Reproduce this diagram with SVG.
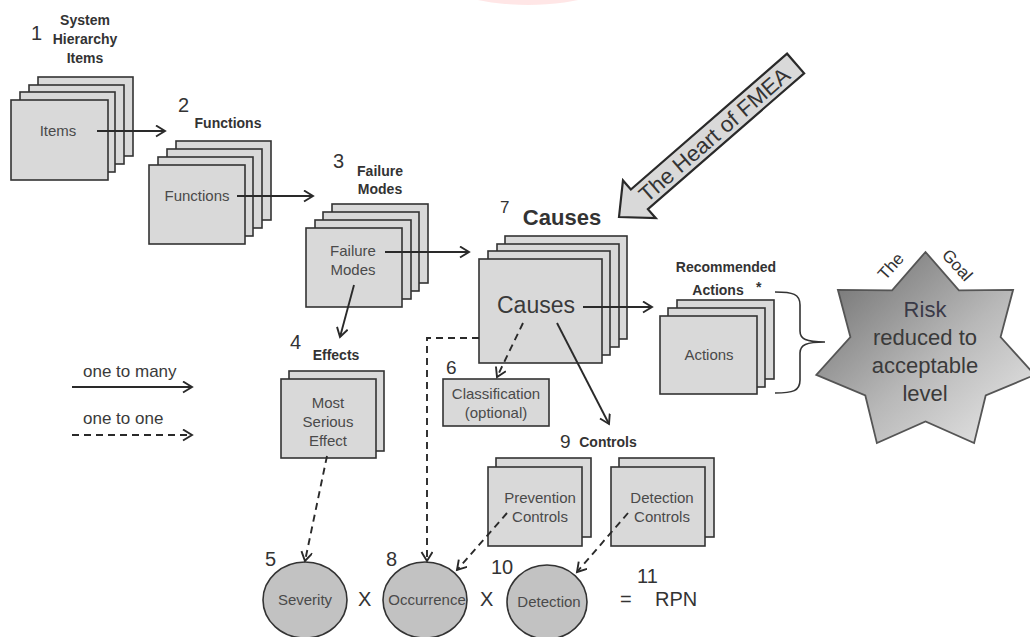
<svg xmlns="http://www.w3.org/2000/svg" width="1030" height="637" viewBox="0 0 1030 637">
<style>
text{font-family:"Liberation Sans",Arial,sans-serif;fill:#3a3a3a}
.box{fill:#d9d9d9;stroke:#333;stroke-width:1.6}
.in{font-size:15px;text-anchor:middle;fill:#4a4a4a}
.ttl{font-size:14px;font-weight:bold;text-anchor:middle;fill:#333}
.num{font-size:20px;fill:#333}
.circ{fill:#c2c2c2;stroke:#333;stroke-width:1.6}
.ln{fill:none;stroke:#2a2a2a;stroke-width:1.9;marker-end:url(#ah)}
.dl{fill:none;stroke:#2a2a2a;stroke-width:1.9;stroke-dasharray:7 5;marker-end:url(#ah)}
</style>
<defs>
<marker id="ah" markerUnits="userSpaceOnUse" markerWidth="14" markerHeight="14" refX="10" refY="6" orient="auto">
<path d="M1,0.5 L10,6 L1,11.5" fill="none" stroke="#2a2a2a" stroke-width="1.9"/>
</marker>
<linearGradient id="sg" x1="0" y1="0" x2="1" y2="1">
<stop offset="0" stop-color="#666"/>
<stop offset="0.55" stop-color="#b8b8b8"/>
<stop offset="1" stop-color="#ececec"/>
</linearGradient>
<radialGradient id="pk" cx="0.5" cy="0" r="0.6">
<stop offset="0" stop-color="#ffc8c8"/>
<stop offset="1" stop-color="#ffe6e6"/>
</radialGradient>
</defs>
<rect width="1030" height="637" fill="#fff"/>
<ellipse cx="528" cy="-28" rx="95" ry="33" fill="url(#pk)"/>

<g id="items">
<rect class="box" x="38" y="77" width="95" height="79"/>
<rect class="box" x="29" y="85" width="95" height="79"/>
<rect class="box" x="20" y="92" width="95" height="80"/>
<rect class="box" x="11" y="100" width="97" height="80"/>
<text class="in" x="58" y="136">Items</text>
<text class="num" x="31" y="40">1</text>
<text class="ttl" x="85" y="25">System</text>
<text class="ttl" x="85" y="44">Hierarchy</text>
<text class="ttl" x="85" y="63">Items</text>
</g>

<g id="functions">
<rect class="box" x="176" y="141" width="95" height="79"/>
<rect class="box" x="167" y="149" width="95" height="79"/>
<rect class="box" x="158" y="157" width="95" height="79"/>
<rect class="box" x="149" y="165" width="96" height="79"/>
<text class="in" x="197" y="201">Functions</text>
<text class="num" x="178" y="112">2</text>
<text class="ttl" x="228" y="128">Functions</text>
</g>

<g id="failure-modes">
<rect class="box" x="332" y="204" width="96" height="79"/>
<rect class="box" x="323" y="212" width="96" height="79"/>
<rect class="box" x="315" y="220" width="96" height="79"/>
<rect class="box" x="306" y="228" width="96" height="79"/>
<text class="in" x="353" y="256">Failure</text>
<text class="in" x="353" y="275">Modes</text>
<text class="num" x="333" y="168">3</text>
<text class="ttl" x="380" y="176">Failure</text>
<text class="ttl" x="380" y="194">Modes</text>
</g>

<g id="causes">
<rect class="box" x="505" y="236" width="122" height="103"/>
<rect class="box" x="497" y="244" width="122" height="103"/>
<rect class="box" x="488" y="251" width="122" height="104"/>
<rect class="box" x="479" y="259" width="123" height="104"/>
<text x="536" y="313" style="font-size:23px;text-anchor:middle;fill:#3a3a3a">Causes</text>
<text x="500" y="213" style="font-size:17px;fill:#333">7</text>
<text x="562" y="225" style="font-size:22px;font-weight:bold;text-anchor:middle;fill:#333">Causes</text>
</g>

<g id="heart-of-fmea" transform="translate(619,217) rotate(-41)">
<polygon points="0,0 27,-25 27,-13 234,-13 234,13 27,13 27,25" fill="#d9d9d9" stroke="#2a2a2a" stroke-width="2.2" stroke-linejoin="miter"/>
<text x="126" y="8" style="font-size:22px;text-anchor:middle;fill:#333" textLength="192" lengthAdjust="spacingAndGlyphs">The Heart of FMEA</text>
</g>

<g id="actions">
<rect class="box" x="677" y="300" width="97" height="79"/>
<rect class="box" x="668" y="308" width="97" height="79"/>
<rect class="box" x="660" y="316" width="97" height="78"/>
<text class="in" x="709" y="360">Actions</text>
<text class="ttl" x="726" y="272">Recommended</text>
<text class="ttl" x="718" y="295">Actions</text>
<text x="756" y="292" style="font-size:14px;font-weight:bold;fill:#333">*</text>
<path d="M775,292 C793,292 800,294 800,305 L800,331 C800,339 806,342 825,342 C806,342 800,345 800,353 L800,380 C800,391 793,393 775,393" fill="none" stroke="#333" stroke-width="1.6"/>
</g>

<g id="goal">
<polygon points="925.5,252 958.9,290.3 1013.1,289.8 1000.6,337.1 1034.7,374.9 985.7,395.5 974.1,443.1 925.5,421.5 876.9,443.1 865.3,395.5 816.3,374.9 850.4,337.1 837.9,289.8 892.1,290.3" fill="url(#sg)" stroke="#555" stroke-width="1.8" stroke-linejoin="miter"/>
<text x="925" y="317" style="font-size:22px;text-anchor:middle;fill:#3a3a48">Risk</text>
<text x="925" y="345" style="font-size:22px;text-anchor:middle;fill:#3a3a3a">reduced to</text>
<text x="925" y="373" style="font-size:22px;text-anchor:middle;fill:#3a3a3a">acceptable</text>
<text x="925" y="401" style="font-size:22px;text-anchor:middle;fill:#3a3a3a">level</text>
<text transform="translate(895,270) rotate(-48)" style="font-size:17px;text-anchor:middle;fill:#333">The</text>
<text transform="translate(953,269) rotate(48)" style="font-size:17px;text-anchor:middle;fill:#333">Goal</text>
</g>

<g id="effects">
<rect class="box" x="289" y="371" width="95" height="80"/>
<rect class="box" x="281" y="379" width="95" height="79"/>
<text class="in" x="328" y="408">Most</text>
<text class="in" x="328" y="427">Serious</text>
<text class="in" x="328" y="446">Effect</text>
<text class="num" x="290" y="349">4</text>
<text class="ttl" x="336" y="360">Effects</text>
</g>

<g id="classification">
<rect class="box" x="443" y="379" width="106" height="47"/>
<text class="in" x="496" y="399">Classification</text>
<text class="in" x="496" y="418">(optional)</text>
<text x="446" y="374" style="font-size:19px;fill:#333">6</text>
</g>

<g id="controls-title">
<text x="560" y="448" style="font-size:19px;fill:#333">9</text>
<text class="ttl" x="608" y="447">Controls</text>
</g>

<g id="prevention-controls">
<rect class="box" x="496" y="458" width="95" height="79"/>
<rect class="box" x="488" y="467" width="94" height="79"/>
<text class="in" x="540" y="503">Prevention</text>
<text class="in" x="540" y="522">Controls</text>
</g>

<g id="detection-controls">
<rect class="box" x="619" y="458" width="95" height="79"/>
<rect class="box" x="611" y="467" width="94" height="79"/>
<text class="in" x="662" y="503">Detection</text>
<text class="in" x="662" y="522">Controls</text>
</g>

<g id="severity">
<ellipse class="circ" cx="305" cy="600" rx="42" ry="38"/>
<text class="in" x="305" y="605">Severity</text>
<text class="num" x="265" y="566">5</text>
</g>

<g id="occurrence">
<ellipse class="circ" cx="425" cy="600" rx="42" ry="38"/>
<text class="in" x="427" y="605">Occurrence</text>
<text class="num" x="386" y="566">8</text>
</g>

<g id="detection">
<ellipse class="circ" cx="547" cy="602" rx="40" ry="37"/>
<text class="in" x="549" y="607">Detection</text>
<text class="num" x="491" y="574">10</text>
</g>

<g id="rpn">
<text class="num" x="358" y="606">X</text>
<text class="num" x="480" y="606">X</text>
<text class="num" x="620" y="606">=</text>
<text class="num" x="637" y="583">11</text>
<text class="num" x="655" y="606">RPN</text>
</g>

<g id="legend">
<text x="83" y="377" style="font-size:17px;fill:#3a3a3a">one to many</text>
<text x="83" y="424" style="font-size:17px;fill:#3a3a3a">one to one</text>
</g>

<g id="connectors">
<line class="ln" x1="97" y1="131" x2="165" y2="131"/>
<line class="ln" x1="237" y1="196" x2="313" y2="196"/>
<line class="ln" x1="385" y1="252" x2="469" y2="252"/>
<line class="ln" x1="354" y1="285" x2="340" y2="337"/>
<line class="ln" x1="583" y1="307" x2="652" y2="307"/>
<line class="ln" x1="557" y1="323" x2="609" y2="424"/>
<line class="dl" x1="523" y1="323" x2="497" y2="377"/>
<polyline class="dl" points="479,338 427,338 427,561"/>
<line class="dl" x1="327" y1="456" x2="305" y2="561"/>
<line class="dl" x1="507" y1="513" x2="457" y2="570"/>
<line class="dl" x1="628" y1="513" x2="577" y2="572"/>
<line class="ln" x1="72" y1="387" x2="192" y2="387"/>
<line class="dl" x1="72" y1="435" x2="192" y2="435"/>
</g>
</svg>
